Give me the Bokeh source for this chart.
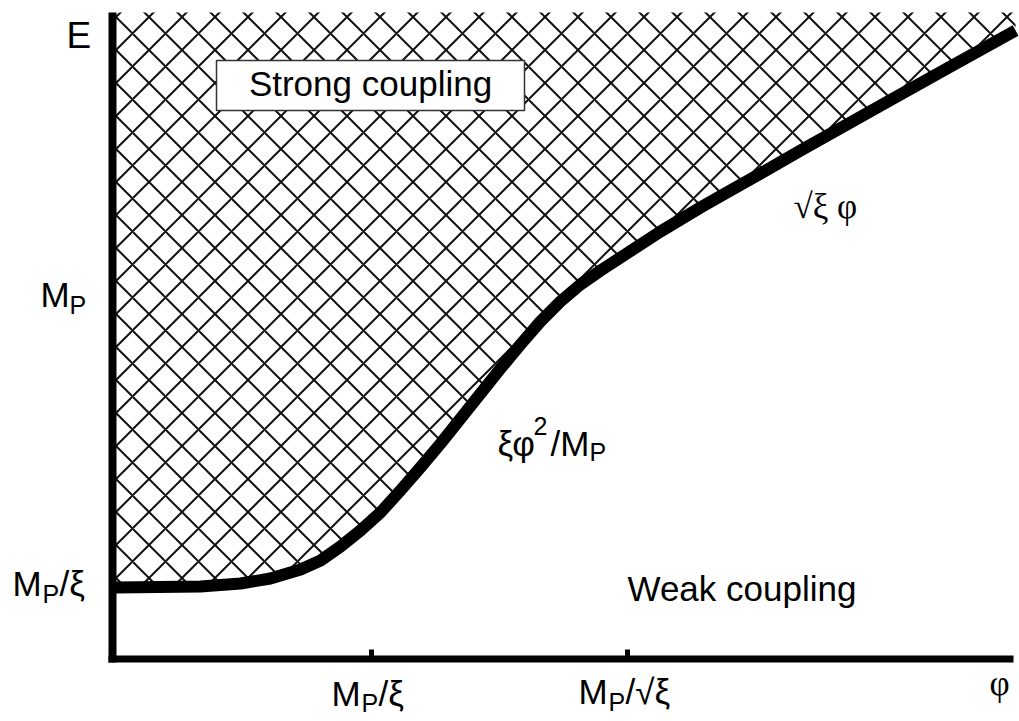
from bokeh.plotting import figure
from bokeh.models import Range1d, ColumnDataSource
from bokeh.core.properties import value
from bokeh.embed import file_html
from bokeh.resources import INLINE

# ---------------- data (schematic units: x ticks at 1 and 2) ----------------
phi = [0.000, 0.332, 0.488, 0.605, 0.723, 0.801, 0.879, 0.957, 1.035, 1.113,
       1.191, 1.270, 1.348, 1.426, 1.504, 1.582, 1.660, 1.738, 1.816, 1.895,
       1.973, 2.051, 2.129, 2.207, 2.285, 2.402, 2.520, 2.676, 2.871, 3.066,
       3.262, 3.516]
energy = [0.71, 0.72, 0.75, 0.80, 0.89, 0.98, 1.12, 1.28, 1.46, 1.68,
          1.91, 2.15, 2.40, 2.65, 2.90, 3.14, 3.37, 3.57, 3.74, 3.88,
          4.01, 4.14, 4.27, 4.39, 4.51, 4.68, 4.85, 5.08, 5.36, 5.64,
          5.92, 6.28]
x_ticks = [1, 2]
x_tick_labels = ["MP/ξ", "MP/√ξ"]
y_tick_labels = ["E", "MP", "MP/ξ"]
region_labels = ["Strong coupling", "Weak coupling"]
curve_labels = ["ξφ²/MP", "√ξ φ"]

# ---------------- layout helpers (pixel -> data) ----------------
W, H = 1019, 721
OX, OY, SX, SY = 115, 658, 256.0, 100.0
BL = 12  # baseline correction for svg text


def X(px):
    return (px - OX) / SX


def Y(py):
    return (OY - py) / SY


p = figure(width=W, height=H, x_range=Range1d(X(0), X(W)), y_range=Range1d(Y(H), Y(0)),
           min_border=0, toolbar_location=None, output_backend="svg",
           x_axis_location=None, y_axis_location=None)
p.grid.visible = False
p.outline_line_color = None
p.background_fill_color = "white"
p.border_fill_color = "white"

axis_x = X(112)
top_y = Y(12)

# hatched strong-coupling region
hx = [axis_x] + phi + [phi[-1], axis_x]
hy = [energy[0]] + energy + [top_y, top_y]
p.patch(hx, hy, fill_color=None, line_color=None, hatch_pattern="diagonal_cross",
        hatch_color="#111111", hatch_weight=2, hatch_scale=33, hatch_alpha=1.0)

# label box
p.quad(left=X(216), right=X(524), top=Y(60), bottom=Y(110), fill_color="white",
       line_color="#333333", line_width=1.5)

# boundary curve
p.line(phi, energy, line_color="black", line_width=12, line_join="round", line_cap="butt")

# axes lines
p.line([axis_x, axis_x], [Y(662), top_y], line_color="black", line_width=8)
p.line([X(108), X(1013)], [Y(658.5), Y(658.5)], line_color="black", line_width=7)
# ticks
p.segment(x0=x_ticks, x1=x_ticks, y0=[Y(658)] * 2, y1=[Y(649)] * 2,
          line_color="black", line_width=5)

SANS = "Liberation Sans"
SERIF = "Liberation Serif"


def txt(items, size, font=SANS, align="left"):
    src = ColumnDataSource(dict(x=[X(a) for a, b, c in items],
                                y=[Y(b - BL) for a, b, c in items],
                                t=[c for a, b, c in items]))
    p.text(x="x", y="y", text="t", source=src, text_font=value(font),
           text_font_size=value(f"{size}px"), text_color="black",
           text_align=align, text_baseline="alphabetic")


MAIN, SUB = 35, 25

txt([(66, 47, y_tick_labels[0])], 37)
# main-size pieces of the labels
txt([
    (40, 306, y_tick_labels[1][0]),
    (12, 595, y_tick_labels[2][0]), (59, 595, y_tick_labels[2][2:]),
    (331, 705, x_tick_labels[0][0]), (378, 705, x_tick_labels[0][2:]),
    (578, 703, x_tick_labels[1][0]), (625, 703, x_tick_labels[1][2:]),
    (497, 455, curve_labels[0][:2]), (550, 455, curve_labels[0][3:5]),
], MAIN)
# subscripts / superscripts
txt([
    (69, 316, y_tick_labels[1][1]),
    (42, 605, y_tick_labels[2][1]),
    (361, 714, x_tick_labels[0][1]),
    (608, 713, x_tick_labels[1][1]),
    (589, 463, curve_labels[0][5]),
], SUB)
txt([(533, 437, "2")], SUB)
# phi axis label and sqrt(xi) phi
txt([(999, 695, "φ")], 35, SERIF, "center")
txt([(793, 218, curve_labels[1])], 35, SERIF)
# region labels
txt([(370, 95, region_labels[0])], 35, SANS, "center")
txt([(627, 600, region_labels[1])], 35, SANS)

open("out.html", "w").write(file_html(p, INLINE))
